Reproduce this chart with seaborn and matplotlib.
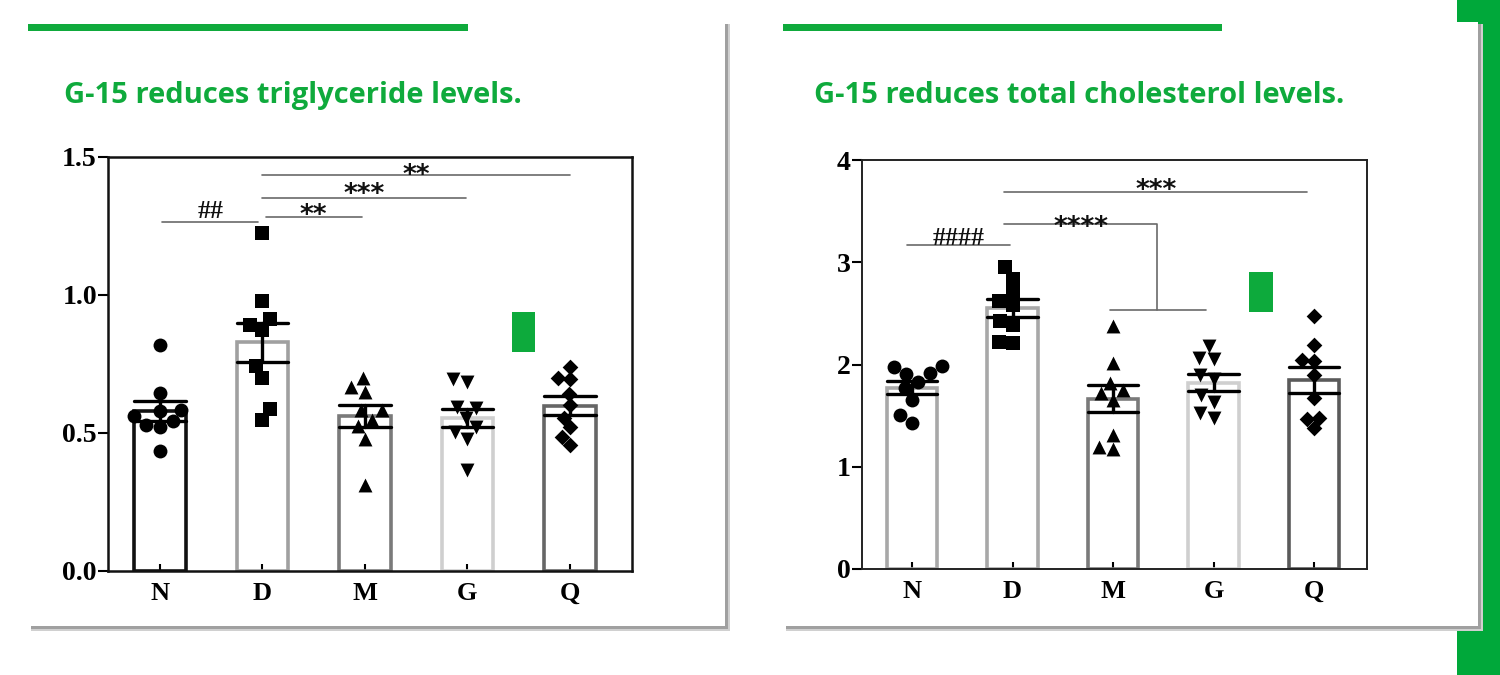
import numpy as np
import pandas as pd
import seaborn as sns
import matplotlib.pyplot as plt
from matplotlib.patches import Rectangle

# ---------------- data ----------------
groups = ["N", "D", "M", "G", "Q"]

tg_N = [0.82, 0.645, 0.585, 0.58, 0.56, 0.545, 0.53, 0.52, 0.435]
tg_D = [1.225, 0.98, 0.913, 0.89, 0.873, 0.743, 0.70, 0.587, 0.547]
tg_M = [0.70, 0.667, 0.65, 0.583, 0.583, 0.547, 0.525, 0.48, 0.31]
tg_G = [0.695, 0.685, 0.595, 0.59, 0.555, 0.52, 0.505, 0.48, 0.365]
tg_Q = [0.74, 0.70, 0.695, 0.64, 0.60, 0.555, 0.52, 0.485, 0.455]

tc_N = [1.985, 1.98, 1.915, 1.91, 1.83, 1.77, 1.65, 1.505, 1.43]
tc_D = [2.95, 2.84, 2.71, 2.62, 2.58, 2.43, 2.385, 2.22, 2.215]
tc_M = [2.375, 2.01, 1.82, 1.75, 1.72, 1.65, 1.31, 1.19, 1.17]
tc_G = [2.18, 2.06, 2.05, 1.90, 1.86, 1.70, 1.63, 1.53, 1.48]
tc_Q = [2.47, 2.19, 2.04, 2.03, 1.90, 1.67, 1.48, 1.47, 1.38]

tg_ticks = [0.0, 0.5, 1.0, 1.5]
tg_ticklabels = ["0.0", "0.5", "1.0", "1.5"]
tc_ticks = [0, 1, 2, 3, 4]
tc_ticklabels = ["0", "1", "2", "3", "4"]

title_tg = "G-15 reduces triglyceride levels."
title_tc = "G-15 reduces total cholesterol levels."

# significance: (x_start, x_end, y, label)
tg_sig = [(0.02, 0.96, 1.265, "##"), (1.03, 1.97, 1.283, "**"),
          (1.0, 2.99, 1.351, "***"), (1.0, 4.0, 1.435, "**")]
tc_sig_simple = [(-0.05, 0.98, 3.17, "####"), (0.92, 3.93, 3.69, "***")]
tc_bracket = dict(x0=0.92, xm=2.44, y_top=3.37, x1=1.97, x2=2.93, y_low=2.53, label="****")

markers = {"N": "o", "D": "s", "M": "^", "G": "v", "Q": "D"}
msizes = {"N": 10, "D": 9.5, "M": 10, "G": 10, "Q": 8}

# ---------------- style ----------------
sns.set_theme(style="white")
plt.rcParams["font.family"] = ["Liberation Serif", "DejaVu Serif"]

W, H = 1500, 675
fig = plt.figure(figsize=(15, 6.75), dpi=100)
fig.patch.set_facecolor("white")

def fx(x):
    return x / W

def fy(y):
    return 1 - y / H

GREEN = "#0FAA3C"

def rect(x0, y0, x1, y1, color, z, **kw):
    r = Rectangle((fx(x0), fy(y1)), fx(x1) - fx(x0), fy(y0) - fy(y1),
                  transform=fig.transFigure, facecolor=color, edgecolor="none",
                  zorder=z, **kw)
    fig.add_artist(r)
    return r

# right green strip
rect(1457, 0, 1500, 675, "#00A83A", -10)
# card shadows + cards
for (x0, x1) in [(30, 725), (785, 1478)]:
    rect(x0 + 1, 24, x1 + 5, 631, "#d0d0d0", -9)
    rect(x0 + 1, 24, x1 + 3, 629, "#a0a0a0", -8.5)
    rect(x0, 22, x1, 626, "white", -8)
# green top bars
rect(28, 24, 468, 31, GREEN, -7)
rect(783, 24, 1222, 31, GREEN, -7)

fig.text(fx(64), fy(103), title_tg, color=GREEN, fontsize=21, fontweight="bold",
         family="Open Sans", va="baseline", ha="left")
fig.text(fx(814), fy(103), title_tc, color=GREEN, fontsize=21, fontweight="bold",
         family="Open Sans", va="baseline", ha="left")


def panel(ax_rect, data, edgecols, ylim, xlim, ticks, ticklabels, spine_col, spine_lw):
    ax = fig.add_axes(ax_rect)
    ax.set_facecolor("none")
    df = pd.DataFrame({
        "group": np.repeat(groups, [len(v) for v in data]),
        "value": np.concatenate(data),
    })
    sns.barplot(data=df, x="group", y="value", hue="group", order=groups,
                hue_order=groups, palette=edgecols, fill=False, errorbar="se",
                capsize=0.5, width=0.5, linewidth=2.6, legend=False,
                err_kws={"color": "black", "linewidth": 2.4}, ax=ax)
    for g in groups:
        sub = df[df["group"] == g]
        sns.swarmplot(x=sub["group"], y=sub["value"], order=groups,
                      marker=markers[g], color="black", size=msizes[g],
                      linewidth=0, warn_thresh=1.0, ax=ax)
    ax.set_ylim(*ylim)
    ax.set_xlim(*xlim)
    ax.set_yticks(ticks)
    ax.set_yticklabels(ticklabels)
    ax.set_xlabel("")
    ax.set_ylabel("")
    for s in ax.spines.values():
        s.set_visible(True)
        s.set_color(spine_col)
        s.set_linewidth(spine_lw)
    ax.tick_params(axis="y", left=True, direction="out", length=7, width=1.5,
                   labelsize=20, pad=1, colors="black")
    ax.tick_params(axis="x", bottom=True, direction="in", length=5, width=1.5,
                   labelsize=19, pad=8, colors="black")
    for lbl in ax.get_xticklabels() + ax.get_yticklabels():
        lbl.set_fontweight("bold")
    return ax


ax1 = panel([fx(108), fy(571), fx(632) - fx(108), fy(157) - fy(571)],
            [tg_N, tg_D, tg_M, tg_G, tg_Q],
            ["#111111", "#a0a0a0", "#7a7a7a", "#cfcfcf", "#666666"],
            (0, 1.5), (-0.507, 4.605), tg_ticks, tg_ticklabels, "#111111", 1.8)

ax2 = panel([fx(862), fy(569), fx(1367) - fx(862), fy(160) - fy(569)],
            [tc_N, tc_D, tc_M, tc_G, tc_Q],
            ["#a8a8a8", "#a8a8a8", "#7a7a7a", "#cfcfcf", "#5a5a5a"],
            (0, 4), (-0.4975, 4.527), tc_ticks, tc_ticklabels, "#222222", 1.4)

LINE = "#6a6a6a"


def sig_label(ax, xc, y, lab, star_center_px):
    """Place a label so that its glyph centre sits star_center_px above the line."""
    if "#" in lab:
        fs = 18.5
        base = star_center_px - 0.34 * fs * 100 / 72
        ax.annotate(lab, xy=(xc, y), xytext=(0, base * 72 / 100), textcoords="offset points",
                    ha="center", va="baseline", fontsize=fs, fontweight="bold",
                    family="Liberation Serif", color="#111111", annotation_clip=False)
    else:
        fs = 19
        base = star_center_px - 0.59 * fs * 100 / 72
        ax.annotate(lab, xy=(xc, y), xytext=(0, base * 72 / 100), textcoords="offset points",
                    ha="center", va="baseline", fontsize=fs, fontweight="bold",
                    family="DejaVu Sans", color="#111111", annotation_clip=False)


tg_offsets = [13, 9, 12, 8]
for (a, b, y, lab), off in zip(tg_sig, tg_offsets):
    ax1.plot([a, b], [y, y], color=LINE, lw=1.2)
    sig_label(ax1, (a + b) / 2, y, lab, off)

tc_offsets = [9, 9]
for (a, b, y, lab), off in zip(tc_sig_simple, tc_offsets):
    ax2.plot([a, b], [y, y], color=LINE, lw=1.2)
    sig_label(ax2, (a + b) / 2, y, lab, off)

bk = tc_bracket
ax2.plot([bk["x0"], bk["xm"], bk["xm"]], [bk["y_top"], bk["y_top"], bk["y_low"]],
         color=LINE, lw=1.2)
ax2.plot([bk["x1"], bk["x2"]], [bk["y_low"], bk["y_low"]], color=LINE, lw=1.2)
sig_label(ax2, (bk["x0"] + bk["xm"]) / 2, bk["y_top"], bk["label"], 5)

# green decorative markers
rect(512, 312, 535, 352, "#0DAA3C", 5)
rect(1249, 272, 1273, 312, "#0DAA3C", 5)

fig.savefig("out.png", dpi=100, facecolor="white")
